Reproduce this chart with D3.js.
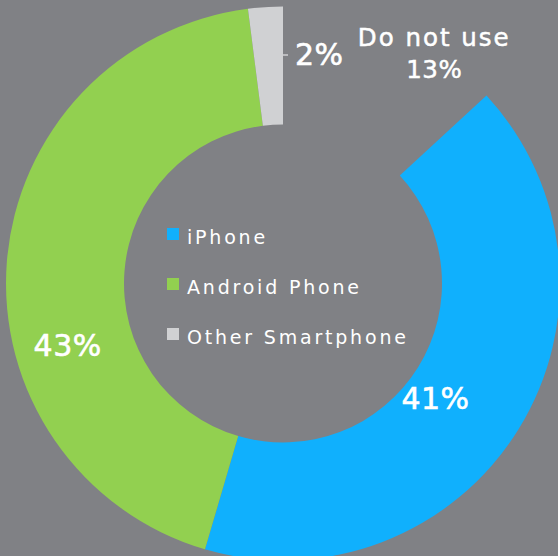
<!DOCTYPE html>
<html>
<head>
<meta charset="utf-8">
<script src="https://cdn.jsdelivr.net/npm/d3@7"></script>
<style>
  html, body { margin: 0; padding: 0; background: #808185; }
  svg { display: block; font-family: "DejaVu Sans", sans-serif; }
</style>
</head>
<body>
<div id="chart"></div>
<script>
// chart values
const categories = ["Do not use", "iPhone", "Android Phone", "Other Smartphone"];
const shares = [13, 41, 43, 2];
const legendItems = ["iPhone", "Android Phone", "Other Smartphone"];

const width = 558, height = 556;
const cx = 283, cy = 283.5;
const outerR = 277, innerR = 159;

const color = d3.scaleOrdinal()
    .domain(categories)
    .range(["none", "#10b0fd", "#92d050", "#d0d1d3"]);

const svg = d3.select("#chart").append("svg")
    .attr("width", width)
    .attr("height", height);

svg.append("rect")
    .attr("width", width).attr("height", height)
    .attr("fill", "#808185");

const g = svg.append("g")
    .attr("transform", "translate(" + cx + "," + cy + ")");

const pie = d3.pie().sort(null).value(d => d.value);
const arcs = pie(categories.map((c, i) => ({ name: c, value: shares[i] })));

const arc = d3.arc().innerRadius(innerR).outerRadius(outerR);

g.selectAll("path.slice")
    .data(arcs)
    .join("path")
    .attr("class", "slice")
    .attr("d", arc)
    .attr("fill", d => color(d.data.name));

// label placement (degrees clockwise from top, radius from centre)
const rad = Math.PI / 180;
const pos = (a, r) => d3.pointRadial(a * rad, r);

// percent labels inside the ring
const inside = [
    { i: 1, angle: 127, r: 191 },
    { i: 2, angle: 254, r: 224 }
];
g.selectAll("text.pct")
    .data(inside)
    .join("text")
    .attr("class", "pct")
    .attr("x", d => pos(d.angle, d.r)[0])
    .attr("y", d => pos(d.angle, d.r)[1])
    .attr("dy", "0.36em")
    .attr("text-anchor", "middle")
    .attr("fill", "#fff")
    .attr("stroke", "#fff")
    .attr("stroke-width", 0.6)
    .attr("font-size", 30)
    .attr("letter-spacing", 0.5)
    .text(d => arcs[d.i].data.value + "%");

// "Do not use" label in the empty slice
const dnu = pos(34.5, 267);
const dnuText = g.append("text")
    .attr("text-anchor", "middle")
    .attr("fill", "#fff")
    .attr("stroke", "#fff")
    .attr("stroke-width", 0.5)
    .attr("font-size", 24.5)
    .attr("letter-spacing", 2);
dnuText.append("tspan")
    .attr("x", dnu[0]).attr("y", dnu[1] - 17)
    .text(arcs[0].data.name);
dnuText.append("tspan")
    .attr("x", dnu[0]).attr("y", dnu[1] + 15)
    .attr("letter-spacing", 0.5)
    .text(arcs[0].data.value + "%");

// small tick + "2%" for the other smartphone slice
const other = arcs[3];
g.append("line")
    .attr("x1", 0).attr("x2", 5)
    .attr("y1", -228.5).attr("y2", -228.5)
    .attr("stroke", "#d0d1d3")
    .attr("stroke-width", 1.5);
g.append("text")
    .attr("x", 12).attr("y", -218.5)
    .attr("fill", "#fff")
    .attr("stroke", "#fff")
    .attr("stroke-width", 0.6)
    .attr("font-size", 30)
    .attr("letter-spacing", 0.5)
    .text(other.data.value + "%");

// legend in the hole
const legend = svg.append("g")
    .attr("transform", "translate(167,228)");

const rows = legend.selectAll("g")
    .data(legendItems)
    .join("g")
    .attr("transform", (d, i) => "translate(0," + (i * 50) + ")");

rows.append("rect")
    .attr("width", 12).attr("height", 12)
    .attr("fill", d => color(d));

rows.append("text")
    .attr("x", 20).attr("y", 16)
    .attr("fill", "#fff")
    .attr("font-size", 19)
    .attr("letter-spacing", 2.8)
    .text(d => d);
</script>
</body>
</html>
